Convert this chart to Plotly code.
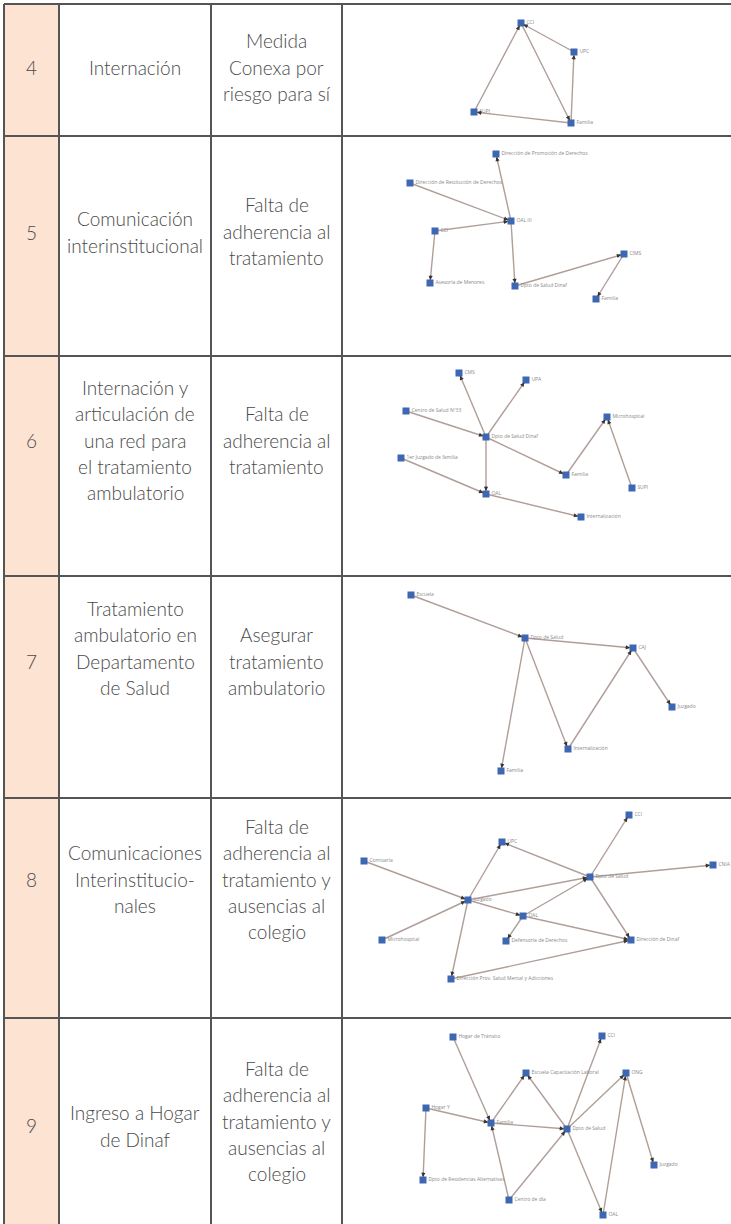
import numpy as np
import plotly.graph_objects as go

W, H = 731, 1224

# ---------------- table data ----------------
case_numbers = ["4", "5", "6", "7", "8", "9"]
strategies = [
    ["Internación"],
    ["Comunicación", "interinstitucional"],
    ["Internación y", "articulación de", "una red para", "el tratamiento", "ambulatorio"],
    ["Tratamiento", "ambulatorio en", "Departamento", "de Salud"],
    ["Comunicaciones", "Interinstitucio-", "nales"],
    ["Ingreso a Hogar", "de Dinaf"],
]
reasons = [
    ["Medida", "Conexa por", "riesgo para sí"],
    ["Falta de", "adherencia al", "tratamiento"],
    ["Falta de", "adherencia al", "tratamiento"],
    ["Asegurar", "tratamiento", "ambulatorio"],
    ["Falta de", "adherencia al", "tratamiento y", "ausencias al", "colegio"],
    ["Falta de", "adherencia al", "tratamiento y", "ausencias al", "colegio"],
]

# ---------------- network data (node name, x, y in page units) ----------------
net4_names = ["CCI", "UPC", "SUPI", "Familia"]
net4_x = [521, 574, 474, 571]
net4_y = [23, 52, 112, 123]
net4_edges = [("SUPI", "CCI"), ("UPC", "CCI"), ("CCI", "Familia"),
              ("Familia", "UPC"), ("Familia", "SUPI")]

net5_names = ["Dirección de Promoción de Derechos", "Dirección de Restitución de Derechos",
              "OAL III", "CCI", "Asesoría de Menores", "Dpto de Salud Dinaf", "CIMS", "Familia"]
net5_x = [496, 410, 511, 435, 430, 515, 624, 596]
net5_y = [154, 183, 221, 231, 283, 286, 254, 299]
net5_edges = [("OAL III", "Dirección de Promoción de Derechos"),
              ("Dirección de Restitución de Derechos", "OAL III"),
              ("CCI", "OAL III"), ("CCI", "Asesoría de Menores"),
              ("OAL III", "Dpto de Salud Dinaf"), ("Dpto de Salud Dinaf", "CIMS"),
              ("CIMS", "Familia")]

net6_names = ["CMS", "UPA", "Centro de Salud Nº33", "Dpto de Salud Dinaf", "Microhospital",
              "1er Juzgado de familia", "Familia", "SUPI", "OAL", "Internalización"]
net6_x = [459, 526, 406, 486, 607, 401, 566, 632, 486, 581]
net6_y = [373, 380, 411, 437, 417, 458, 475, 488, 494, 517]
net6_edges = [("Dpto de Salud Dinaf", "CMS"), ("Dpto de Salud Dinaf", "UPA"),
              ("Centro de Salud Nº33", "Dpto de Salud Dinaf"), ("Dpto de Salud Dinaf", "Familia"),
              ("Dpto de Salud Dinaf", "OAL"), ("1er Juzgado de familia", "OAL"),
              ("OAL", "Internalización"), ("Familia", "Microhospital"), ("SUPI", "Microhospital")]

net7_names = ["Escuela", "Dpto de Salud", "CAJ", "Juzgado", "Internalización", "Familia"]
net7_x = [411, 525, 633, 672, 568, 501]
net7_y = [595, 638, 648, 707, 749, 771]
net7_edges = [("Escuela", "Dpto de Salud"), ("Dpto de Salud", "CAJ"),
              ("Dpto de Salud", "Familia"), ("Dpto de Salud", "Internalización"),
              ("Internalización", "CAJ"), ("CAJ", "Juzgado")]

net8_names = ["CCI", "UPC", "Comisaría", "Dpto de Salud", "CNIA", "Juzgado", "OAL",
              "Microhospital", "Defensoría de Derechos", "Dirección de Dinaf",
              "Dirección Prov. Salud Mental y Adicciones"]
net8_x = [629, 502, 364, 590, 713, 468, 523, 382, 506, 631, 451]
net8_y = [815, 842, 861, 877, 865, 900, 916, 940, 941, 940, 979]
net8_edges = [("Dpto de Salud", "CCI"), ("Dpto de Salud", "UPC"), ("Juzgado", "UPC"),
              ("Comisaría", "Juzgado"), ("Juzgado", "Dpto de Salud"), ("Dpto de Salud", "CNIA"),
              ("Microhospital", "Juzgado"), ("Juzgado", "OAL"),
              ("Juzgado", "Dirección Prov. Salud Mental y Adicciones"),
              ("OAL", "Dpto de Salud"), ("OAL", "Defensoría de Derechos"),
              ("OAL", "Dirección de Dinaf"), ("Dpto de Salud", "Dirección de Dinaf"),
              ("Dirección Prov. Salud Mental y Adicciones", "Dirección de Dinaf")]

net9_names = ["Hogar de Tránsito", "CCI", "Escuela Capacitación Laboral", "ONG", "Hogar Y",
              "Familia", "Dpto de Salud", "Juzgado", "Dpto de Residencias Alternativas",
              "Centro de día", "OAL"]
net9_x = [453, 602, 526, 626, 426, 491, 567, 654, 423, 509, 603]
net9_y = [1037, 1036, 1073, 1073, 1108, 1123, 1129, 1165, 1180, 1200, 1215]
net9_edges = [("Hogar de Tránsito", "Familia"), ("Familia", "Escuela Capacitación Laboral"),
              ("Dpto de Salud", "Escuela Capacitación Laboral"), ("Hogar Y", "Familia"),
              ("Hogar Y", "Dpto de Residencias Alternativas"), ("Familia", "Dpto de Salud"),
              ("Centro de día", "Familia"), ("Dpto de Salud", "CCI"), ("Dpto de Salud", "ONG"),
              ("Centro de día", "Dpto de Salud"), ("Dpto de Salud", "OAL"),
              ("OAL", "ONG"), ("ONG", "Juzgado")]

networks = [
    (net4_names, net4_x, net4_y, net4_edges),
    (net5_names, net5_x, net5_y, net5_edges),
    (net6_names, net6_x, net6_y, net6_edges),
    (net7_names, net7_x, net7_y, net7_edges),
    (net8_names, net8_x, net8_y, net8_edges),
    (net9_names, net9_x, net9_y, net9_edges),
]

# ---------------- layout constants ----------------
row_tops = [4, 136, 356, 576, 798, 1018]
col_x = [4, 59, 211, 342]
num_center = [67, 232, 440, 661, 879, 1125]
strat_center = [67, 232, 440, 648, 879, 1126]
reason_center = [67, 231, 440, 661, 879, 1121]
LINE_H = 26.3
TEXT_FONT = "Lato, Liberation Sans Narrow, sans-serif"
TEXT_COLOR = "#4a4a4a"
BORDER = "#555555"
PEACH = "#fde3d2"
EDGE_COLOR = "#b09e98"
NODE_COLOR = "#3d67b2"

fig = go.Figure()
shapes = []
annotations = []

# peach first column
shapes.append(dict(type="rect", xref="x", yref="y", x0=col_x[0], x1=col_x[1],
                   y0=row_tops[0], y1=H + 5, fillcolor=PEACH, line_width=0, layer="below"))
# horizontal rules
for yt in row_tops:
    shapes.append(dict(type="line", xref="x", yref="y", x0=col_x[0], x1=W + 5, y0=yt, y1=yt,
                       line=dict(color=BORDER, width=2)))
# vertical rules
for xv in col_x:
    shapes.append(dict(type="line", xref="x", yref="y", x0=xv, x1=xv, y0=row_tops[0], y1=H + 5,
                       line=dict(color=BORDER, width=2)))


def add_lines(lines, xc, yc):
    n = len(lines)
    for i, t in enumerate(lines):
        y = yc + (i - (n - 1) / 2) * LINE_H
        annotations.append(dict(x=xc, y=y, xref="x", yref="y", text=t, showarrow=False,
                                xanchor="center", yanchor="middle",
                                font=dict(family=TEXT_FONT, size=19, color=TEXT_COLOR,
                                          weight=300)))


for i in range(len(case_numbers)):
    add_lines([case_numbers[i]], (col_x[0] + col_x[1]) / 2, num_center[i])
    add_lines(strategies[i], (col_x[1] + col_x[2]) / 2, strat_center[i])
    add_lines(reasons[i], (col_x[2] + col_x[3]) / 2, reason_center[i])

# networks
for names, xs, ys, edges in networks:
    pos = {n: (x, y) for n, x, y in zip(names, xs, ys)}
    ex, ey = [], []
    for s, t in edges:
        ex += [pos[s][0], pos[t][0], None]
        ey += [pos[s][1], pos[t][1], None]
    fig.add_trace(go.Scatter(x=ex, y=ey, mode="lines", hoverinfo="skip",
                             line=dict(color=EDGE_COLOR, width=1.4), showlegend=False))
    for s, t in edges:
        sx, sy = pos[s]
        tx, ty = pos[t]
        v = np.array([tx - sx, ty - sy], dtype=float)
        u = v / np.linalg.norm(v)
        bx, by = tx - u[0] * 9, ty - u[1] * 9
        annotations.append(dict(x=tx, y=ty, ax=bx, ay=by, xref="x", yref="y",
                                axref="x", ayref="y", showarrow=True, text="",
                                arrowhead=2, arrowsize=0.7, arrowwidth=1.2,
                                arrowcolor="#3a3533", standoff=3))
    fig.add_trace(go.Scatter(x=xs, y=ys, mode="markers+text", text=names,
                             textposition="middle right", hoverinfo="skip",
                             textfont=dict(family="Open Sans, sans-serif", size=5, color="#8a8a8a"),
                             marker=dict(symbol="square", size=7, color=NODE_COLOR, line_width=0),
                             showlegend=False))

fig.update_layout(
    width=W, height=H, margin=dict(l=0, r=0, t=0, b=0),
    paper_bgcolor="white", plot_bgcolor="white",
    xaxis=dict(range=[0, W], visible=False, fixedrange=True),
    yaxis=dict(range=[H, 0], visible=False, fixedrange=True),
    shapes=shapes, annotations=annotations,
)

fig.write_html("out.html", config={"displayModeBar": False},
               post_script="document.body.style.margin='0';document.body.style.padding='0';")
